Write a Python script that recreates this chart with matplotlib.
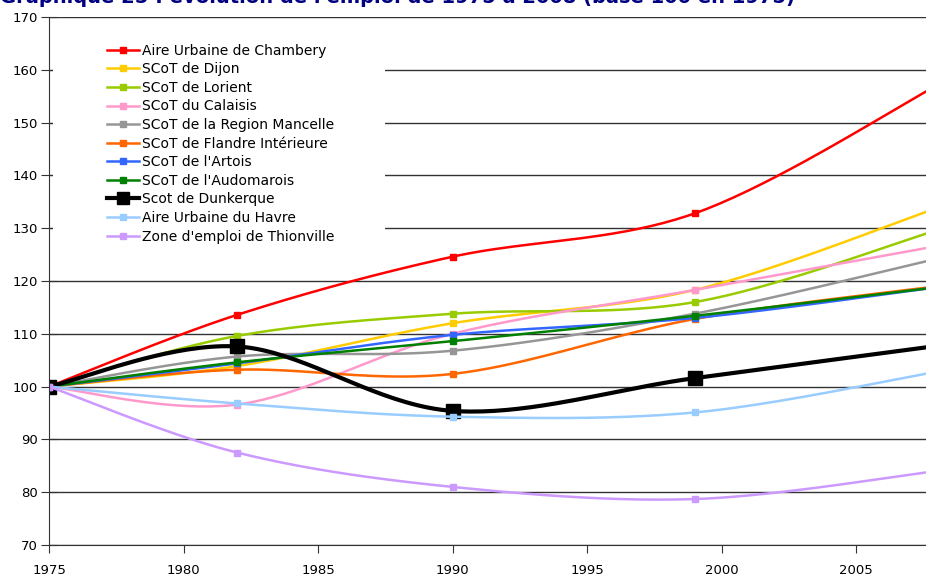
import numpy as np
import matplotlib
matplotlib.use("Agg")
from matplotlib import pyplot as plt
from matplotlib.patches import Rectangle

# census years (last point lies just beyond the visible frame)
years = [1975, 1982, 1990, 1999, 2008]

chambery = [100, 113.6, 124.6, 132.8, 157.0]
dijon = [100, 103.9, 112.0, 118.3, 133.8]
lorient = [100, 109.6, 113.8, 116.0, 129.6]
calaisis = [100, 96.6, 110.0, 118.3, 126.6]
mancelle = [100, 105.7, 106.8, 113.8, 124.2]
flandre = [100, 103.2, 102.4, 112.8, 119.0]
artois = [100, 104.4, 109.8, 113.0, 118.8]
audomarois = [100, 104.6, 108.6, 113.4, 118.8]
dunkerque = [100, 107.6, 95.4, 101.6, 107.7]
havre = [100, 96.8, 94.3, 95.1, 102.8]
thionville = [100, 87.5, 81.0, 78.7, 84.0]

labels = ["Aire Urbaine de Chambery", "SCoT de Dijon", "SCoT de Lorient",
          "SCoT du Calaisis", "SCoT de la Region Mancelle",
          "SCoT de Flandre Intérieure", "SCoT de l'Artois",
          "SCoT de l'Audomarois", "Scot de Dunkerque",
          "Aire Urbaine du Havre", "Zone d'emploi de Thionville"]
series = [chambery, dijon, lorient, calaisis, mancelle, flandre, artois,
          audomarois, dunkerque, havre, thionville]
colors = ["#FF0000", "#FFCC00", "#99CC00", "#FF99CC", "#969696", "#FF6600",
          "#3366FF", "#008000", "#000000", "#99CCFF", "#CC99FF"]

title = "Graphique 25 : évolution de l'emploi de 1975 à 2008 (base 100 en 1975)"


def smooth(xs, ys, n=40):
    # Excel-like smoothed line: bezier through the points (Catmull-Rom tangents)
    p = np.column_stack([xs, ys]).astype(float)
    ext = np.vstack([p[0], p, p[-1]])
    out = []
    t = np.linspace(0, 1, n)[:, None]
    for i in range(len(p) - 1):
        p0, p3 = ext[i + 1], ext[i + 2]
        c1 = p0 + (ext[i + 2] - ext[i]) / 6
        c2 = p3 - (ext[i + 3] - ext[i + 1]) / 6
        seg = ((1 - t) ** 3) * p0 + 3 * ((1 - t) ** 2) * t * c1 \
            + 3 * (1 - t) * t ** 2 * c2 + t ** 3 * p3
        out.append(seg)
    out = np.vstack(out)
    return out[:, 0], out[:, 1]


fig = plt.figure(figsize=(9.26, 5.76), dpi=100)
ax = fig.add_axes([49 / 926, 31 / 576, 1 - 49 / 926, 528 / 576])

for vals, lab, col in zip(series, labels, colors):
    big = lab == "Scot de Dunkerque"
    sx, sy = smooth(years, vals)
    lw = 3 if big else 1.8
    ms = 10 if big else 5
    ax.plot(sx, sy, color=col, lw=lw, solid_capstyle="butt", zorder=2)
    ax.plot(years, vals, ls="none", marker="s", ms=ms, color=col, zorder=2)
    # legend proxy
    ax.plot([], [], color=col, lw=lw, marker="s", ms=ms - 1, label=lab)

# white legend area hides the gridlines behind it
ax.add_patch(Rectangle((0.004, 0.559), 0.379, 0.416, transform=ax.transAxes,
                       facecolor="white", edgecolor="none", zorder=1))

ax.set_xlim(1975, 1975 + 877 / 26.9)
ax.set_ylim(70, 170)
ax.set_yticks(range(70, 171, 10))
ax.set_xticks(range(1975, 2006, 5))
ax.grid(axis="y", color="#333333", lw=1)
ax.set_axisbelow(True)
for s in ["top", "right"]:
    ax.spines[s].set_visible(False)
for s in ["left", "bottom"]:
    ax.spines[s].set_color("#333333")
ax.tick_params(axis="both", colors="#333333", labelcolor="black",
               labelsize=9.5)
ax.tick_params(axis="y", direction="inout", length=12, pad=2)
ax.tick_params(axis="x", length=6, pad=8)

ax.legend(loc="upper left", bbox_to_anchor=(0.060, 0.96), frameon=False,
          fontsize=10, handlelength=2.3, handletextpad=0.2, labelspacing=0.33,
          numpoints=1, borderaxespad=0)

fig.text(0.0, 1 - 3 / 576, title, color="#000080", fontsize=14,
         fontweight="bold", va="baseline", ha="left")

fig.savefig("out.png", dpi=100)
